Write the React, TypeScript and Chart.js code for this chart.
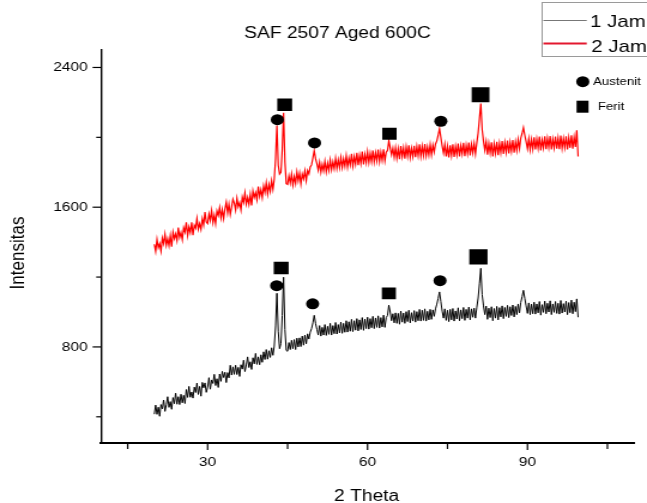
import React, { useEffect, useRef } from 'react';
import { Chart, registerables } from 'chart.js';

Chart.register(...registerables);

// ---- data ----
const THETA_START = 20;
const THETA_STEP = 0.25;

const JAM1 = [
  415, 467, 414, 455, 403, 470, 445, 496, 431, 469, 515, 454, 487, 443, 510, 475, 535, 472, 515, 470,
  529, 480, 523, 476, 556, 511, 574, 512, 542, 507, 570, 539, 593, 528, 574, 518, 597, 566, 594, 540,
  570, 624, 558, 611, 591, 643, 579, 618, 568, 645, 603, 660, 625, 655, 596, 653, 623, 695, 639, 686,
  643, 695, 642, 683, 631, 698, 673, 724, 659, 697, 743, 682, 715, 671, 738, 703, 763, 700, 743, 698,
  755, 712, 772, 728, 785, 730, 778, 740, 795, 752, 805, 920, 1107, 890, 790, 820, 980, 1199, 900, 780,
  775, 825, 785, 838, 790, 842, 785, 850, 800, 852, 802, 862, 810, 868, 818, 875, 845, 885, 905, 938,
  981, 935, 900, 868, 922, 862, 912, 868, 928, 866, 918, 872, 935, 868, 922, 876, 940, 874, 928, 880,
  942, 878, 935, 884, 950, 885, 944, 890, 958, 888, 950, 896, 962, 892, 955, 900, 968, 895, 960, 905,
  970, 902, 962, 910, 975, 905, 966, 912, 978, 908, 968, 915, 982, 912, 968, 980, 1039, 1000, 950, 990,
  938, 995, 935, 992, 930, 1005, 942, 994, 935, 1002, 945, 1010, 938, 996, 948, 1008, 942, 1002, 950, 1015,
  948, 1010, 952, 1018, 948, 1004, 955, 1015, 958, 1012, 975, 1018, 1045, 1078, 1115, 1060, 1005, 965, 1018, 952,
  1010, 945, 1015, 955, 1020, 948, 1006, 960, 1024, 950, 1012, 962, 1026, 952, 1015, 965, 1028, 955, 1018, 970,
  1022, 965, 1028, 1080, 1165, 1250, 1100, 1035, 985, 1034, 958, 1022, 968, 1030, 950, 1020, 965, 1032, 955, 1025,
  972, 1035, 962, 1026, 975, 1038, 968, 1030, 980, 1040, 972, 1032, 985, 1046, 995, 1055, 1088, 1124, 1078, 1035,
  992, 1052, 985, 1045, 990, 1056, 988, 1046, 995, 1060, 982, 1042, 998, 1062, 990, 1050, 1000, 1064, 985, 1046,
  998, 1060, 992, 1050, 988, 1066, 994, 1048, 1000, 1062, 985, 1054, 996, 1068, 990, 1056, 1002, 1075, 970,
];

const JAM2 = [
  1388, 1347, 1416, 1368, 1391, 1349, 1423, 1391, 1446, 1382, 1420, 1380, 1438, 1374, 1457, 1420, 1447, 1408, 1483, 1427,
  1455, 1414, 1482, 1457, 1514, 1438, 1487, 1455, 1513, 1440, 1497, 1480, 1535, 1474, 1506, 1473, 1535, 1498, 1572, 1515,
  1506, 1561, 1524, 1580, 1511, 1555, 1506, 1579, 1553, 1598, 1539, 1587, 1535, 1590, 1629, 1566, 1617, 1558, 1601, 1646,
  1624, 1583, 1651, 1603, 1626, 1584, 1658, 1627, 1682, 1618, 1656, 1616, 1674, 1610, 1693, 1656, 1683, 1643, 1718, 1662,
  1700, 1655, 1722, 1684, 1740, 1676, 1730, 1690, 1752, 1702, 1760, 1880, 2067, 1840, 1790, 1800, 1930, 2141, 1860, 1735,
  1730, 1780, 1738, 1790, 1727, 1776, 1735, 1802, 1751, 1795, 1732, 1790, 1762, 1808, 1752, 1810, 1790, 1830, 1842, 1882,
  1924, 1878, 1850, 1812, 1858, 1800, 1845, 1808, 1862, 1802, 1852, 1810, 1870, 1814, 1860, 1820, 1880, 1822, 1872, 1826,
  1885, 1828, 1878, 1835, 1895, 1830, 1882, 1842, 1905, 1836, 1890, 1846, 1912, 1840, 1898, 1850, 1918, 1845, 1902, 1855,
  1918, 1855, 1908, 1860, 1925, 1858, 1912, 1864, 1930, 1860, 1915, 1868, 1932, 1865, 1915, 1925, 1981, 1940, 1900, 1938,
  1885, 1940, 1880, 1935, 1875, 1950, 1890, 1940, 1878, 1945, 1892, 1955, 1885, 1938, 1890, 1952, 1886, 1948, 1895, 1960,
  1892, 1950, 1896, 1962, 1894, 1945, 1898, 1958, 1900, 1955, 1915, 1962, 1980, 2012, 2050, 2000, 1950, 1910, 1960, 1890,
  1950, 1885, 1955, 1895, 1960, 1888, 1948, 1900, 1965, 1890, 1952, 1905, 1968, 1892, 1955, 1906, 1970, 1896, 1960, 1910,
  1965, 1905, 1970, 2025, 2110, 2193, 2045, 1978, 1925, 1975, 1900, 1965, 1910, 1972, 1890, 1962, 1908, 1975, 1898, 1966,
  1912, 1978, 1905, 1970, 1915, 1982, 1908, 1972, 1920, 1985, 1912, 1975, 1925, 1988, 1935, 1995, 2022, 2056, 2012, 1975,
  1935, 1992, 1928, 1988, 1932, 2000, 1930, 1990, 1938, 2004, 1925, 1985, 1940, 2006, 1932, 1995, 1942, 2008, 1930, 1990,
  1940, 2004, 1935, 1996, 1932, 2010, 1938, 1994, 1942, 2006, 1930, 1998, 1940, 2012, 1935, 2002, 1945, 2040, 1890,
];

// phase markers placed above the peaks (2θ, intensity)
const AUSTENIT_THETA = [43.08, 50.06, 73.75, 42.95, 49.7, 73.6];
const AUSTENIT_INT = [2101, 1968, 2092, 1151, 1047, 1179];
const FERIT_THETA = [44.46, 64.1, 81.2, 43.8, 64.0, 80.8];
const FERIT_INT = [2187, 2021, 2244, 1252, 1107, 1316];

const X_TICKS = [15, 30, 45, 60, 75, 90, 105];
const X_LABELS = [30, 60, 90];
const Y_TICKS = [400, 800, 1200, 1600, 2000, 2400];
const Y_LABELS = [800, 1600, 2400];

const SERIES_NAMES = ['1 Jam', '2 Jam'];
const MARKER_NAMES = ['Austenit', 'Ferit'];
const TITLE = 'SAF 2507 Aged 600C';
const X_TITLE = '2 Theta';
const Y_TITLE = 'Intensitas';

// ---- layout ----
const W = 540;
const H = 503;
const STRETCH = 647 / W;
const FONT = '"Liberation Sans", Arial, Helvetica, sans-serif';

const toPoints = (vals: number[]) =>
  vals.map((v, i) => ({ x: THETA_START + i * THETA_STEP, y: v }));

const decorations = {
  id: 'decorations',
  afterDraw(chart: any) {
    const ctx = chart.ctx as CanvasRenderingContext2D;
    const xs = chart.scales.x;
    const ys = chart.scales.y;
    ctx.save();
    // tick marks
    ctx.strokeStyle = '#000';
    ctx.lineWidth = 1.2;
    for (const v of Y_TICKS) {
      const y = ys.getPixelForValue(v);
      const len = Y_LABELS.includes(v) ? 7 : 4;
      ctx.beginPath();
      ctx.moveTo(ys.right - len, y);
      ctx.lineTo(ys.right, y);
      ctx.stroke();
    }
    for (const v of X_TICKS) {
      const x = xs.getPixelForValue(v);
      const len = X_LABELS.includes(v) ? 7 : 6;
      ctx.beginPath();
      ctx.moveTo(x, xs.top);
      ctx.lineTo(x, xs.top + len);
      ctx.stroke();
    }
    // titles
    ctx.fillStyle = '#000';
    ctx.textAlign = 'center';
    ctx.textBaseline = 'alphabetic';
    ctx.font = `16px ${FONT}`;
    ctx.fillText(TITLE, 281.7, 38.3);
    ctx.fillText(X_TITLE, 306, 501);
    ctx.save();
    ctx.translate(20, 253);
    ctx.rotate(-Math.PI / 2);
    ctx.font = `17px ${FONT}`;
    ctx.fillText(Y_TITLE, 0, 0);
    ctx.restore();

    // series legend box
    ctx.strokeStyle = '#9a9a9a';
    ctx.lineWidth = 1;
    ctx.strokeRect(452.5, 2.5, W + 5 - 452.5, 54);
    ctx.strokeStyle = '#777';
    ctx.lineWidth = 1;
    ctx.beginPath();
    ctx.moveTo(453.5, 20.5);
    ctx.lineTo(489.7, 20.5);
    ctx.stroke();
    ctx.strokeStyle = '#e3182f';
    ctx.lineWidth = 2;
    ctx.beginPath();
    ctx.moveTo(453.5, 43.5);
    ctx.lineTo(489.7, 43.5);
    ctx.stroke();
    ctx.textAlign = 'left';
    ctx.textBaseline = 'middle';
    ctx.font = `17px ${FONT}`;
    ctx.fillText(SERIES_NAMES[0], 492.5, 22);
    ctx.fillText(SERIES_NAMES[1], 493.5, 47.5);

    // phase marker legend
    ctx.beginPath();
    ctx.arc(486.4, 81.7, 5.5, 0, Math.PI * 2);
    ctx.fill();
    ctx.fillRect(481.2, 100.7, 10, 12);
    ctx.font = `11px ${FONT}`;
    ctx.fillText(MARKER_NAMES[0], 495, 82);
    ctx.fillText(MARKER_NAMES[1], 499, 107);
    ctx.restore();
  },
};

export default function App() {
  const canvasRef = useRef<HTMLCanvasElement | null>(null);

  useEffect(() => {
    const canvas = canvasRef.current;
    if (!canvas) return;
    const chart = new Chart(canvas, {
      type: 'scatter',
      data: {
        datasets: [
          {
            label: MARKER_NAMES[0],
            data: AUSTENIT_THETA.map((x, i) => ({ x, y: AUSTENIT_INT[i] })),
            pointStyle: 'circle',
            pointRadius: 5.5,
            backgroundColor: '#000',
            borderColor: '#000',
            borderWidth: 0,
            showLine: false,
            order: 0,
          },
          {
            label: MARKER_NAMES[1],
            data: FERIT_THETA.map((x, i) => ({ x, y: FERIT_INT[i] })),
            pointStyle: 'rect',
            pointRadius: [8.8, 8.5, 10.5, 8.8, 8.3, 10.8],
            backgroundColor: '#000',
            borderColor: '#000',
            borderWidth: 0,
            showLine: false,
            order: 0,
          },
          {
            label: SERIES_NAMES[0],
            data: toPoints(JAM1),
            showLine: true,
            borderColor: '#000',
            borderWidth: 1,
            pointRadius: 0,
            tension: 0,
            order: 1,
          },
          {
            label: SERIES_NAMES[1],
            data: toPoints(JAM2),
            showLine: true,
            borderColor: '#ff0000',
            borderWidth: 1.2,
            pointRadius: 0,
            tension: 0,
            order: 1,
          },
        ],
      },
      options: {
        animation: false,
        responsive: false,
        maintainAspectRatio: false,
        events: [],
        layout: { padding: { top: 50, right: 8.3, left: 0, bottom: 0 } },
        plugins: {
          legend: { display: false },
          tooltip: { enabled: false },
          title: { display: false },
        },
        scales: {
          x: {
            type: 'linear',
            min: 10,
            max: 110,
            grid: { display: false, drawTicks: false },
            border: { display: true, color: '#000', width: 2 },
            ticks: {
              padding: 12,
              color: '#000',
              autoSkip: false,
              maxRotation: 0,
              font: { size: 13, family: FONT },
              callback: (v: any) => (X_LABELS.includes(Number(v)) ? String(v) : ''),
            },
            afterBuildTicks: (s: any) => {
              s.ticks = X_TICKS.map((v) => ({ value: v }));
            },
            afterFit: (s: any) => {
              s.height = 60;
            },
          },
          y: {
            type: 'linear',
            min: 250,
            max: 2500,
            grid: { display: false, drawTicks: false },
            border: { display: true, color: '#000', width: 1.4 },
            ticks: {
              padding: 11,
              color: '#000',
              autoSkip: false,
              font: { size: 13, family: FONT },
              callback: (v: any) => (Y_LABELS.includes(Number(v)) ? String(v) : ''),
            },
            afterBuildTicks: (s: any) => {
              s.ticks = Y_TICKS.map((v) => ({ value: v }));
            },
            afterFit: (s: any) => {
              s.width = 84.3;
            },
          },
        },
      },
      plugins: [decorations],
    } as any);
    return () => chart.destroy();
  }, []);

  return (
    <div
      style={{
        position: 'absolute',
        left: 0,
        top: 0,
        width: 647,
        height: 503,
        overflow: 'hidden',
        background: '#fff',
      }}
    >
      <div
        style={{
          position: 'absolute',
          left: 0,
          top: 0,
          width: W,
          height: H,
          transform: `scaleX(${STRETCH})`,
          transformOrigin: '0 0',
        }}
      >
        <canvas ref={canvasRef} width={W} height={H} style={{ display: 'block', width: W, height: H }} />
      </div>
    </div>
  );
}
